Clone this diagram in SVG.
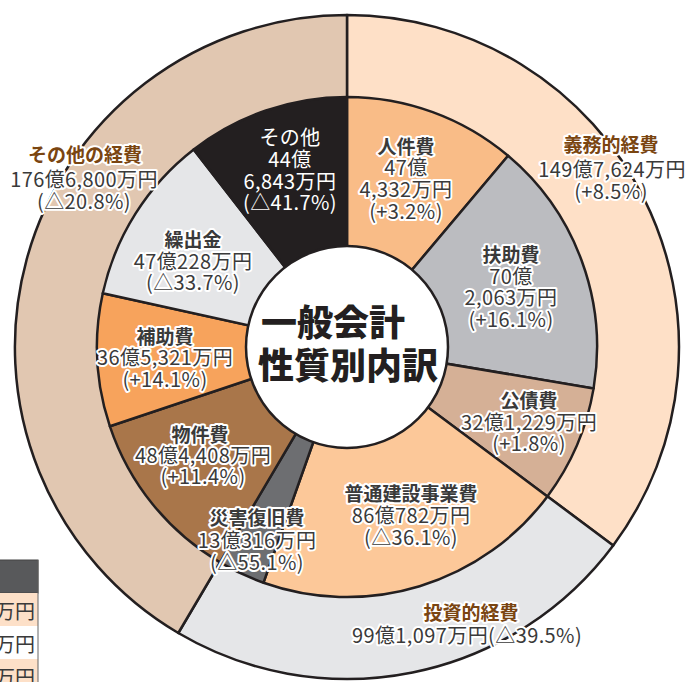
<svg xmlns="http://www.w3.org/2000/svg" width="688" height="682" viewBox="0 0 688 682">
<style>
.seg{stroke:#231f20;stroke-width:2.5;stroke-linejoin:round}
.t{font-family:"Noto Sans CJK JP","Noto Sans",sans-serif;font-size:20px;letter-spacing:0.4px;fill:#3a3a3a;stroke:#fff;stroke-width:4;stroke-linejoin:round;paint-order:stroke;text-anchor:middle}
.b{font-weight:bold;font-size:19px;letter-spacing:0}
.h{fill:#7a4511;font-weight:bold;font-size:19px;letter-spacing:0}
.w{fill:#fff;stroke:#231f20}
.c{font-family:"Noto Sans CJK JP","Noto Sans",sans-serif;font-size:36px;font-weight:900;fill:#231f20;text-anchor:start}
.tb{font-family:"Noto Sans CJK JP","Noto Sans",sans-serif;font-size:20px;fill:#3a3a3a;text-anchor:end}
</style>
<rect width="688" height="682" fill="#fff"/>
<g id="table-fragment">
<rect x="-2" y="560" width="40" height="33" fill="#58595b" stroke="#444" stroke-width="1"/>
<rect x="-2" y="593" width="40" height="33" fill="#fde0c8"/>
<rect x="-2" y="626" width="40" height="33" fill="#fff"/>
<rect x="-2" y="659" width="40" height="25" fill="#fde0c8"/>
<line x1="38" y1="560" x2="38" y2="682" stroke="#666" stroke-width="1"/>
<text class="tb" x="35" y="619">万円</text>
<text class="tb" x="35" y="652">万円</text>
<text class="tb" x="35" y="685">万円</text>
</g>
<g id="connectors"></g>
<g id="ring-outer">
<path id="gimu" class="seg" fill="#fee0c7" d="M347,347 L347,15 A332,332 0 0 1 613.2,545.4 Z"/>
<path id="toushi" class="seg" fill="#e5e6e8" d="M347,347 L613.2,545.4 A332,332 0 0 1 178.3,633 Z"/>
<path id="sonota-keihi" class="seg" fill="#e1c7b1" d="M347,347 L178.3,633 A332,332 0 0 1 347,15 Z"/>
</g>
<g id="ring-inner">
<path id="jinkenhi" class="seg" fill="#f9bc87" d="M347,347 L347,97 A250,250 0 0 1 508.1,155.8 Z"/>
<path id="fujohi" class="seg" fill="#bbbcc0" d="M347,347 L508.1,155.8 A250,250 0 0 1 593.6,388.4 Z"/>
<path id="kousaihi" class="seg" fill="#d5b096" d="M347,347 L593.6,388.4 A250,250 0 0 1 547.4,496.4 Z"/>
<path id="futsuu" class="seg" fill="#fcc899" d="M347,347 L547.4,496.4 A250,250 0 0 1 263.5,582.7 Z"/>
<path id="saigai" class="seg" fill="#6d6e71" d="M347,347 L263.5,582.7 A250,250 0 0 1 220,562.3 Z"/>
<path id="bukken" class="seg" fill="#a9764a" d="M347,347 L220,562.3 A250,250 0 0 1 109.9,426.3 Z"/>
<path id="hojo" class="seg" fill="#f7a35c" d="M347,347 L109.9,426.3 A250,250 0 0 1 102.8,293.3 Z"/>
<path id="kuridashi" class="seg" fill="#e5e6e8" d="M347,347 L102.8,293.3 A250,250 0 0 1 193.7,149.5 Z"/>
<path id="sonota" class="seg" fill="#231f20" d="M347,347 L193.7,149.5 A250,250 0 0 1 347,97 Z"/>
</g>
<g id="center">
<circle class="seg" cx="347" cy="347" r="101" fill="#fff"/>
<text class="c" x="261" y="336">一般会計</text>
<text class="c" x="258" y="379">性質別内訳</text>
</g>
<g id="label-gimu">
<text class="t h" x="611" y="152">義務的経費</text>
<text class="t" x="612" y="177">149億7,624万円</text>
<text class="t" x="611" y="199">(+8.5%)</text>
</g>
<g id="label-toushi">
<text class="t h" x="471" y="620">投資的経費</text>
<text class="t" x="467" y="643">99億1,097万円(△39.5%)</text>
</g>
<g id="label-sonota-keihi">
<text class="t h" x="85" y="162">その他の経費</text>
<text class="t" x="84" y="187">176億6,800万円</text>
<text class="t" x="84" y="209">(△20.8%)</text>
</g>
<g id="label-jinkenhi">
<text class="t b" x="406" y="154">人件費</text>
<text class="t" x="406" y="175">47億</text>
<text class="t" x="406" y="197">4,332万円</text>
<text class="t" x="406" y="219">(+3.2%)</text>
</g>
<g id="label-fujohi">
<text class="t b" x="511" y="262">扶助費</text>
<text class="t" x="511" y="284">70億</text>
<text class="t" x="511" y="305">2,063万円</text>
<text class="t" x="511" y="327">(+16.1%)</text>
</g>
<g id="label-kousaihi">
<text class="t b" x="529" y="408">公債費</text>
<text class="t" x="529" y="430">32億1,229万円</text>
<text class="t" x="529" y="451">(+1.8%)</text>
</g>
<g id="label-futsuu">
<text class="t b" x="411" y="501">普通建設事業費</text>
<text class="t" x="411" y="523">86億782万円</text>
<text class="t" x="411" y="545">(△36.1%)</text>
</g>
<g id="label-saigai">
<text class="t b" x="257" y="525">災害復旧費</text>
<text class="t" x="257" y="548">13億316万円</text>
<text class="t" x="257" y="570">(△55.1%)</text>
</g>
<g id="label-bukken">
<text class="t b" x="200" y="442">物件費</text>
<text class="t" x="203" y="463">48億4,408万円</text>
<text class="t" x="203" y="484">(+11.4%)</text>
</g>
<g id="label-hojo">
<text class="t b" x="165" y="344">補助費</text>
<text class="t" x="165" y="365">36億5,321万円</text>
<text class="t" x="165" y="387">(+14.1%)</text>
</g>
<g id="label-kuridashi">
<text class="t b" x="193" y="247">繰出金</text>
<text class="t" x="193" y="269">47億228万円</text>
<text class="t" x="193" y="290">(△33.7%)</text>
</g>
<g id="label-sonota">
<text class="t w" x="290" y="145">その他</text>
<text class="t w" x="290" y="167">44億</text>
<text class="t w" x="290" y="189">6,843万円</text>
<text class="t w" x="290" y="210">(△41.7%)</text>
</g>
</svg>
